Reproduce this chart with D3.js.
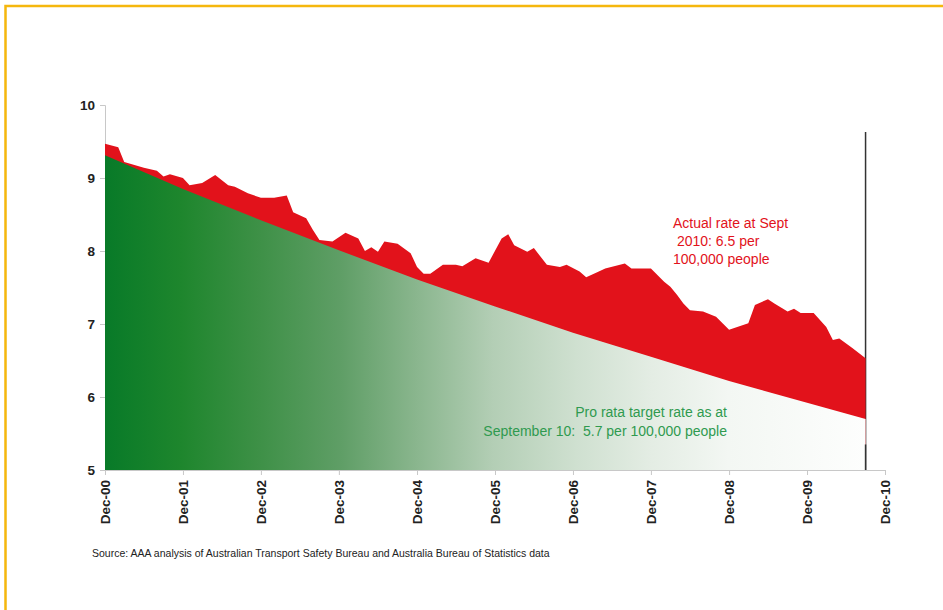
<!DOCTYPE html>
<html>
<head>
<meta charset="utf-8">
<script src="https://cdn.jsdelivr.net/npm/d3@7"></script>
<style>
  body { margin: 0; background: #fff; }
  svg { display: block; font-family: Arial, "Liberation Sans", sans-serif; }
</style>
</head>
<body>
<script>
// actual road death rate (per 100,000 people)
var actualMonths = ['2000-12','2001-02','2001-03','2001-06','2001-08','2001-09','2001-10','2001-12',
  '2002-01','2002-03','2002-05','2002-07','2002-08','2002-10','2002-12',
  '2003-02','2003-04','2003-05','2003-07','2003-08','2003-09','2003-11',
  '2004-01','2004-03','2004-04','2004-05','2004-06','2004-07','2004-09','2004-11','2004-12',
  '2005-01','2005-02','2005-04','2005-06','2005-07','2005-09','2005-11',
  '2006-01','2006-02','2006-03','2006-05','2006-06','2006-08','2006-10','2006-11',
  '2007-01','2007-02','2007-04','2007-05','2007-08','2007-09','2007-12',
  '2008-02','2008-03','2008-04','2008-05','2008-06','2008-08','2008-10','2008-12',
  '2009-03','2009-04','2009-06','2009-07','2009-09','2009-10','2009-11',
  '2010-01','2010-03','2010-04','2010-05','2010-07','2010-09'];
var actualValues = [9.47,9.42,9.22,9.14,9.10,9.02,9.05,9.00,
  8.90,8.93,9.04,8.90,8.88,8.79,8.73,
  8.73,8.76,8.53,8.45,8.29,8.15,8.13,
  8.25,8.17,8.00,8.05,7.99,8.13,8.10,7.97,7.78,
  7.69,7.69,7.81,7.81,7.79,7.90,7.84,
  8.17,8.23,8.08,7.99,8.04,7.81,7.78,7.81,
  7.72,7.64,7.72,7.76,7.83,7.76,7.76,
  7.58,7.51,7.40,7.28,7.19,7.17,7.10,6.92,
  7.01,7.26,7.34,7.28,7.17,7.21,7.15,
  7.15,6.96,6.78,6.80,6.67,6.53];

// pro rata target path
var targetMonths = ['2000-12','2001-12','2002-12','2003-12','2004-12','2005-12',
  '2006-12','2007-12','2008-12','2009-12','2010-09'];
var targetValues = [9.31, 8.85, 8.42, 8.01, 7.61, 7.24, 6.88, 6.55, 6.22, 5.92, 5.70];

var yTicks = [5,6,7,8,9,10];
var xTickYears = [2000,2001,2002,2003,2004,2005,2006,2007,2008,2009,2010];

var redLabel = ['Actual rate at Sept', '\u00a02010: 6.5 per', '100,000 people'];
var greenLabel = ['Pro rata target rate as at', 'September 10:  5.7 per 100,000 people'];
var sourceText = 'Source: AAA analysis of Australian Transport Safety Bureau and Australia Bureau of Statistics data';

var parseMonth = d3.timeParse('%Y-%m');

var actual = actualMonths.map(function(m, i){ return {date: parseMonth(m), value: actualValues[i]}; });
var target = targetMonths.map(function(m, i){ return {date: parseMonth(m), value: targetValues[i]}; });

var svg = d3.select('body').append('svg')
    .attr('width', 943)
    .attr('height', 610);

// yellow frame
svg.append('rect')
    .attr('x', 5.5)
    .attr('y', 6)
    .attr('width', 1000)
    .attr('height', 700)
    .attr('fill', 'none')
    .attr('stroke', '#f5b70d')
    .attr('stroke-width', 2.5);

var x = d3.scaleTime()
    .domain([new Date(2000, 11, 1), new Date(2010, 11, 1)])
    .range([105, 885]);

var y = d3.scaleLinear()
    .domain([5, 10])
    .range([470, 105]);

var lastDate = actual[actual.length - 1].date;

var defs = svg.append('defs');
var grad = defs.append('linearGradient')
    .attr('id', 'greenFade')
    .attr('gradientUnits', 'userSpaceOnUse')
    .attr('x1', x(target[0].date)).attr('x2', x(lastDate))
    .attr('y1', 0).attr('y2', 0);
var stops = [[0,'#087a28'],[0.10,'#1e862d'],[0.20,'#3d9046'],[0.31,'#5f9e66'],[0.41,'#8ab68e'],
  [0.51,'#b3ceb5'],[0.62,'#cfe0d0'],[0.72,'#e4ede4'],[0.82,'#f3f7f3'],[1,'#fdfefd']];
stops.forEach(function(s){
    grad.append('stop').attr('offset', s[0]).attr('stop-color', s[1]);
});

// axes
var yAxis = svg.append('g')
    .attr('transform', 'translate(' + x.range()[0] + ',0)')
    .call(d3.axisLeft(y).tickValues(yTicks).tickFormat(d3.format('d')).tickSize(5).tickPadding(5));

var xAxis = svg.append('g')
    .attr('transform', 'translate(0,' + y(5) + ')')
    .call(d3.axisBottom(x)
        .tickValues(xTickYears.map(function(yr){ return new Date(yr, 11, 1); }))
        .tickFormat(d3.timeFormat('Dec-%y'))
        .tickSize(5));

xAxis.selectAll('text')
    .attr('x', -10)
    .attr('y', 0)
    .attr('dy', '0.35em')
    .attr('transform', 'rotate(-90)')
    .style('text-anchor', 'end');

[yAxis, xAxis].forEach(function(ax){
    ax.select('.domain').attr('stroke', '#c8c8c8');
    ax.selectAll('.tick line').attr('stroke', '#c8c8c8');
    ax.selectAll('text')
        .attr('fill', '#222')
        .style('font-size', '13.5px')
        .style('font-weight', 'bold');
});

// vertical marker at Sept 2010
svg.append('line')
    .attr('x1', x(lastDate)).attr('x2', x(lastDate))
    .attr('y1', y(9.63)).attr('y2', y(5))
    .attr('stroke', '#333')
    .attr('stroke-width', 1.5);

var area = d3.area()
    .x(function(d){ return x(d.date); })
    .y0(y(5))
    .y1(function(d){ return y(d.value); });

svg.append('path')
    .datum(actual)
    .attr('d', area)
    .attr('fill', '#e2121b');

svg.append('path')
    .datum(target)
    .attr('d', area)
    .attr('fill', 'url(#greenFade)');

svg.append('line')
    .attr('x1', x(lastDate)).attr('x2', x(lastDate))
    .attr('y1', y(5.35)).attr('y2', y(5))
    .attr('stroke', '#333')
    .attr('stroke-width', 1.5);

// annotations
svg.append('text')
    .attr('x', 673)
    .attr('y', 228)
    .attr('fill', '#e2121b')
    .style('font-size', '14px')
    .style('white-space', 'pre')
    .selectAll('tspan')
    .data(redLabel)
    .enter().append('tspan')
    .attr('x', 673)
    .attr('dy', function(d, i){ return i == 0 ? 0 : 18; })
    .text(function(d){ return d; });

svg.append('text')
    .attr('x', 727)
    .attr('y', 417)
    .attr('fill', '#2f9a4f')
    .style('font-size', '14px')
    .style('text-anchor', 'end')
    .style('white-space', 'pre')
    .selectAll('tspan')
    .data(greenLabel)
    .enter().append('tspan')
    .attr('x', 727)
    .attr('dy', function(d, i){ return i == 0 ? 0 : 19; })
    .text(function(d){ return d; });

svg.append('text')
    .attr('x', 92)
    .attr('y', 557)
    .attr('fill', '#222')
    .style('font-size', '10.5px')
    .text(sourceText);
</script>
</body>
</html>
